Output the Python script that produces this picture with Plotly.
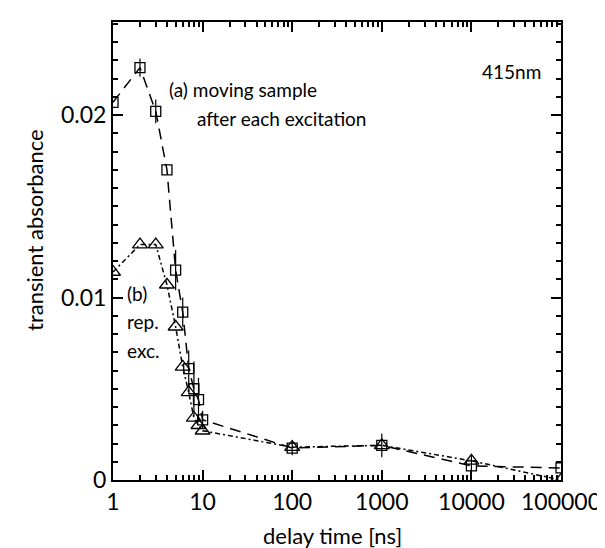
import math
import plotly.graph_objects as go

# delay time [ns] and transient absorbance at 415 nm
delay_a = [1, 2, 3, 4, 5, 6, 7, 8, 9, 10, 100, 1000, 10000, 100000]
absorb_a = [0.0207, 0.0226, 0.0202, 0.0170, 0.0115, 0.0092, 0.0061, 0.0050,
            0.0044, 0.0033, 0.00175, 0.0019, 0.00077, 0.00066]
err_a = [0, 0.0005, 0.00065, 0, 0.0011, 0.0008, 0.0010, 0.0015, 0.0012,
         0.0005, 0.0004, 0.00065, 0.0006, 0]

delay_b = [1, 2, 3, 4, 5, 6, 7, 8, 9, 10, 100, 1000, 10000, 100000]
absorb_b = [0.0114, 0.0129, 0.0129, 0.0107, 0.0084, 0.0062, 0.0048, 0.0034,
            0.0030, 0.0027, 0.0018, 0.0019, 0.00105, 0.0000]

x_ticks = [1, 10, 100, 1000, 10000, 100000]
x_labels = ["1", "10", "100", "1000", "10000", "100000"]
y_ticks = [0, 0.01, 0.02]
y_labels = ["0", "0.01", "0.02"]

FONT = "Lato"

fig = go.Figure()

fig.add_trace(go.Scatter(
    x=delay_a, y=absorb_a,
    mode="lines+markers",
    line=dict(color="black", width=1.5, dash="11px,7px"),
    marker=dict(symbol="square-open", size=10, color="black", line=dict(width=1.3)),
    error_y=dict(type="data", array=err_a, color="black", thickness=1.2, width=0),
    showlegend=False,
))

fig.add_trace(go.Scatter(
    x=delay_b, y=absorb_b,
    mode="lines+markers",
    line=dict(color="black", width=1.5, dash="5px,3px,2px,3px"),
    marker=dict(symbol="triangle-up-open", size=13, color="black", line=dict(width=1.3)),
    showlegend=False,
))

minor_x = [m * 10 ** d for d in range(5) for m in range(2, 10)]

fig.update_xaxes(
    type="log", range=[0, 5],
    tickvals=x_ticks, ticktext=x_labels,
    ticks="inside", ticklen=10, tickwidth=1.5, tickcolor="black",
    minor=dict(tickvals=minor_x, ticks="inside", ticklen=5, tickcolor="black"),
    showline=True, linecolor="black", linewidth=2, mirror="ticks",
    showgrid=False, zeroline=False,
    ticklabeloverflow="allow",
    tickfont=dict(family=FONT, size=23, color="black"),
)

fig.update_yaxes(
    range=[0, 0.0251],
    tickvals=y_ticks, ticktext=y_labels,
    ticks="inside", ticklen=10, tickwidth=1.5, tickcolor="black",
    minor=dict(dtick=0.001, ticks="inside", ticklen=5, tickcolor="black"),
    showline=True, linecolor="black", linewidth=2, mirror="ticks",
    showgrid=False, zeroline=False,
    tickfont=dict(family=FONT, size=23, color="black"),
)

# axis titles placed as annotations so they sit where the reference has them
fig.add_annotation(x=0.489, y=-0.122, xref="paper", yref="paper",
                   xanchor="center", yanchor="middle",
                   text="delay time [ns]", showarrow=False,
                   font=dict(family=FONT, size=22, color="black"))
fig.add_annotation(x=-0.174, y=0.546, xref="paper", yref="paper",
                   xanchor="center", yanchor="middle",
                   text="transient absorbance", showarrow=False, textangle=-90,
                   font=dict(family=FONT, size=22, color="black"))

notes = [
    (4.0, 0.0214, "(a) moving sample"),
    (8.2, 0.0198, "after each excitation"),
    (12500, 0.0224, "415nm"),
    (1.35, 0.0102, "(b)"),
    (1.35, 0.0087, "rep."),
    (1.35, 0.0071, "exc."),
]
for nx, ny, txt in notes:
    fig.add_annotation(x=math.log10(nx), y=ny, xref="x", yref="y",
                       text=txt, showarrow=False, xanchor="left", yanchor="middle",
                       font=dict(family=FONT, size=19, color="black"))

fig.update_layout(
    width=605, height=548,
    margin=dict(l=105, r=40, t=14, b=76),
    plot_bgcolor="white", paper_bgcolor="white",
)

fig.write_html("out.html")
